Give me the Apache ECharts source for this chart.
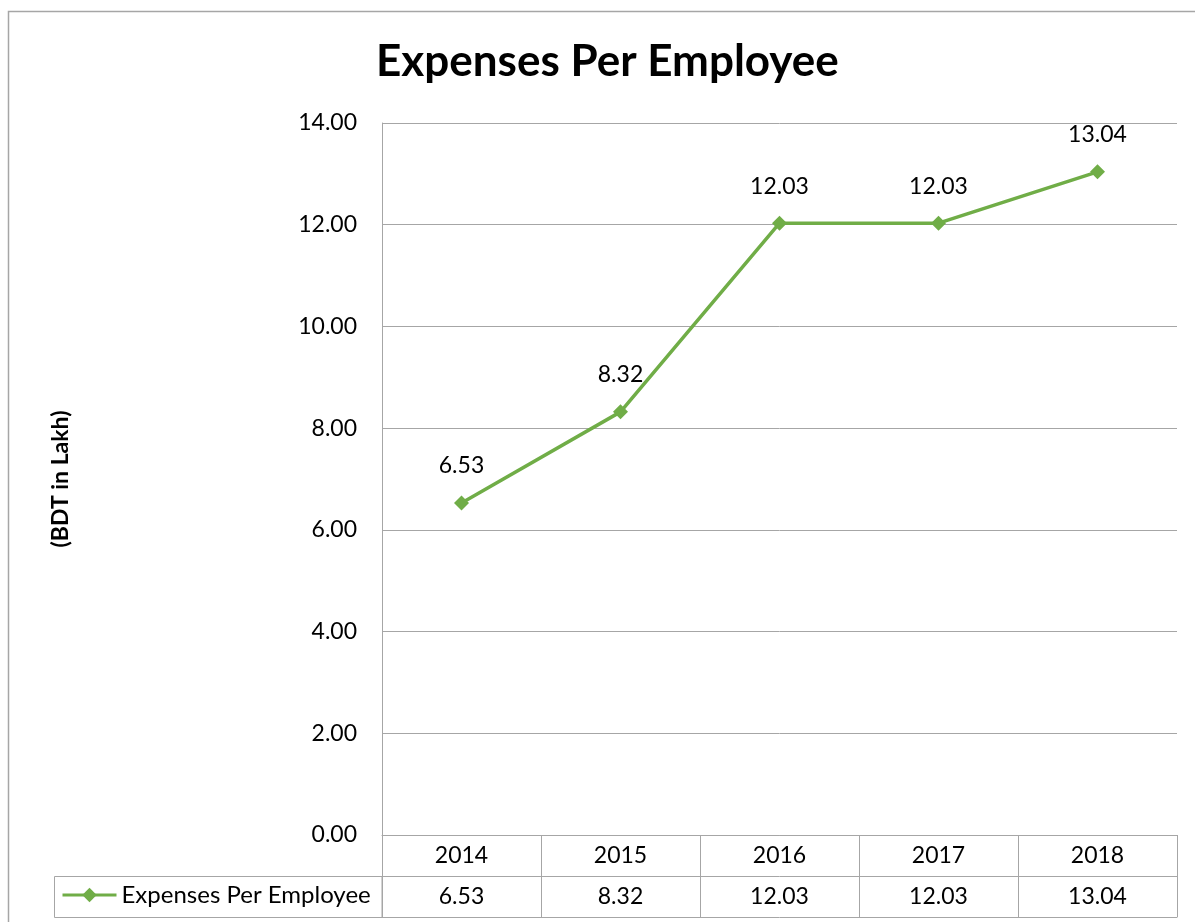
<!DOCTYPE html>
<html>
<head>
<meta charset="utf-8">
<title>Expenses Per Employee</title>
<script src="https://cdn.jsdelivr.net/npm/echarts@6/dist/echarts.min.js"></script>
<style>
  html, body { margin: 0; padding: 0; background: #ffffff; }
  #chart { width: 1195px; height: 922px; }
</style>
</head>
<body>
<div id="chart"></div>
<script>
// Expenses per employee, BDT in lakh
const years = ['2014', '2015', '2016', '2017', '2018'];
const expensesPerEmployee = [6.53, 8.32, 12.03, 12.03, 13.04];
const seriesName = 'Expenses Per Employee';
const yTicks = { min: 0, max: 14, interval: 2 };

const FONT = 'Lato, "Open Sans", sans-serif';
const GREEN = '#70AD47';
const RULE = '#A6A6A6';
const NUM_SIZE = 23;

const chart = echarts.init(document.getElementById('chart'), null, { renderer: 'canvas' });

// grid edges; the data table hangs below the plot as two 41px rows
const GRID = { left: 382, right: 18, top: 123, bottom: 87 };
const ROW = 41;
const tableTop = 922 - GRID.bottom;

const fmt = v => Number(v).toFixed(2);

chart.setOption({
  backgroundColor: '#ffffff',
  animation: false,
  title: {
    text: 'Expenses Per Employee',
    left: 376,
    top: 40,
    padding: 0,
    textStyle: { fontFamily: FONT, fontWeight: 'bold', fontSize: 44, color: '#000000' }
  },
  legend: {
    data: [seriesName],
    left: 61,
    // sits in the legend cell of the data table
    top: tableTop + ROW + 7,
    orient: 'horizontal',
    padding: 0,
    itemWidth: 54,
    itemHeight: 18,
    itemGap: 5,
    lineStyle: { width: 3 },
    textStyle: { fontFamily: FONT, fontSize: 24, color: '#000000' }
  },
  grid: {
    left: GRID.left, right: GRID.right, top: GRID.top, bottom: GRID.bottom,
    containLabel: false
  },
  xAxis: [
    {
      // header row of the table: years, with cell dividers drawn as long ticks
      type: 'category',
      data: years,
      position: 'bottom',
      boundaryGap: true,
      axisLine: { show: true, lineStyle: { color: RULE, width: 1 } },
      axisTick: { show: true, length: ROW * 2, lineStyle: { color: RULE, width: 1 } },
      axisLabel: { margin: 9, fontFamily: FONT, fontSize: NUM_SIZE, color: '#000000' },
      splitLine: { show: false }
    },
    {
      // value row of the table
      type: 'category',
      data: years,
      position: 'bottom',
      offset: ROW,
      boundaryGap: true,
      axisLine: { show: true, lineStyle: { color: RULE, width: 1 } },
      axisTick: { show: false },
      axisLabel: {
        margin: 9, fontFamily: FONT, fontSize: NUM_SIZE, color: '#000000',
        formatter: (val, idx) => fmt(expensesPerEmployee[idx])
      },
      splitLine: { show: false }
    },
    {
      // bottom rule of the table
      type: 'category',
      data: years,
      position: 'bottom',
      offset: ROW * 2,
      boundaryGap: true,
      axisLine: { show: true, lineStyle: { color: RULE, width: 1 } },
      axisTick: { show: false },
      axisLabel: { show: false },
      splitLine: { show: false }
    }
  ],
  yAxis: {
    type: 'value',
    min: yTicks.min,
    max: yTicks.max,
    interval: yTicks.interval,
    name: '(BDT in Lakh)',
    nameLocation: 'middle',
    nameRotate: 90,
    nameGap: 310,
    nameTextStyle: { fontFamily: FONT, fontWeight: 'bold', fontSize: 23, color: '#000000' },
    axisLine: { show: true, lineStyle: { color: RULE, width: 1 } },
    axisTick: { show: false },
    axisLabel: { margin: 25, fontFamily: FONT, fontSize: NUM_SIZE, color: '#000000', formatter: fmt },
    splitLine: { show: true, lineStyle: { color: RULE, width: 1 } }
  },
  series: [
    {
      name: seriesName,
      type: 'line',
      xAxisIndex: 0,
      data: expensesPerEmployee,
      symbol: 'diamond',
      symbolSize: 15,
      showAllSymbol: true,
      lineStyle: { color: GREEN, width: 3.5 },
      itemStyle: { color: GREEN },
      label: {
        show: true,
        position: 'top',
        distance: 18,
        fontFamily: FONT,
        fontSize: NUM_SIZE,
        color: '#000000',
        formatter: p => fmt(p.value)
      },
      z: 5
    }
  ],
  graphic: [
    {
      // outer chart frame
      type: 'rect',
      silent: true,
      shape: { x: 8.5, y: 11.5, width: 1300, height: 1000 },
      style: { fill: null, stroke: RULE, lineWidth: 1.5 }
    },
    {
      // legend cell of the data table
      type: 'rect',
      silent: true,
      shape: { x: 54.5, y: tableTop + ROW + 0.5, width: GRID.left - 54.5, height: ROW },
      style: { fill: null, stroke: RULE, lineWidth: 1 }
    }
  ]
});
</script>
</body>
</html>
